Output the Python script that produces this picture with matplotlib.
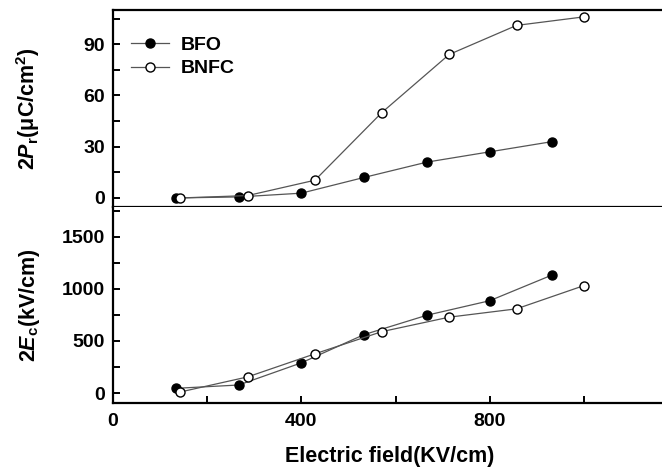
import matplotlib.pyplot as plt
from matplotlib.ticker import MultipleLocator

plt.rcParams['font.family'] = ['Liberation Sans', 'DejaVu Sans']
plt.rcParams['font.weight'] = 'bold'
plt.rcParams['mathtext.fontset'] = 'custom'
plt.rcParams['mathtext.rm'] = 'Liberation Sans:bold'
plt.rcParams['mathtext.it'] = 'Liberation Sans:bold:italic'
plt.rcParams['mathtext.bf'] = 'Liberation Sans:bold'

# Data
field_bfo = [133, 267, 400, 533, 667, 800, 933]
field_bnfc = [143, 286, 429, 571, 714, 857, 1000]
pr_bfo = [0.0, 0.6, 2.8, 12.0, 21.0, 27.0, 33.0]
pr_bnfc = [0.0, 1.4, 10.4, 50.0, 84.0, 101.0, 106.0]
ec_bfo = [45, 77, 290, 561, 748, 887, 1135]
ec_bnfc = [10, 155, 377, 590, 729, 809, 1032]

line_col = "#555555"
fig = plt.figure(figsize=(6.62, 4.69), dpi=100)
ax1 = fig.add_axes([0.1707, 0.5586, 0.835, 0.42])
ax2 = fig.add_axes([0.1707, 0.1407, 0.835, 0.418], sharex=ax1)

ax1.plot(field_bfo, pr_bfo, color=line_col, lw=0.9, marker="o", ms=6.5,
         mfc="black", mec="black", label="BFO")
ax1.plot(field_bnfc, pr_bnfc, color=line_col, lw=0.9, marker="o", ms=6.5,
         mfc="white", mec="black", mew=1.0, label="BNFC")
ax2.plot(field_bfo, ec_bfo, color=line_col, lw=0.9, marker="o", ms=6.5,
         mfc="black", mec="black")
ax2.plot(field_bnfc, ec_bnfc, color=line_col, lw=0.9, marker="o", ms=6.5,
         mfc="white", mec="black", mew=1.0)

ax1.set_xlim(0, 1174)
ax1.set_ylim(-5.3, 110)
ax2.set_ylim(-96, 1788)

ax1.yaxis.set_major_locator(MultipleLocator(30))
ax1.yaxis.set_minor_locator(MultipleLocator(15))
ax2.yaxis.set_major_locator(MultipleLocator(500))
ax2.yaxis.set_minor_locator(MultipleLocator(250))
ax2.xaxis.set_major_locator(MultipleLocator(400))
ax2.xaxis.set_minor_locator(MultipleLocator(200))

for ax in (ax1, ax2):
    for s in ax.spines.values():
        s.set_linewidth(1.6)
    ax.spines["right"].set_visible(False)
    ax.tick_params(which="both", direction="in", width=1.4, labelsize=14,
                   top=False, right=False)
    ax.tick_params(which="major", length=5)
    ax.tick_params(which="minor", length=5)
    ax.tick_params(axis="y", pad=6)

ax1.tick_params(axis="x", which="both", bottom=False, labelbottom=False)
ax2.spines["top"].set_visible(False)
ax2.tick_params(axis="x", which="both", pad=7)

ax1.set_ylabel(r"2$\mathit{P}_\mathrm{r}$(μC/cm$^\mathrm{2}$)", fontsize=15.5,
               fontweight="bold")
ax2.set_ylabel(r"2$\mathit{E}_\mathrm{c}$(kV/cm)", fontsize=15.5,
               fontweight="bold")
ax1.yaxis.set_label_coords(-0.128, 0.5)
ax2.yaxis.set_label_coords(-0.128, 0.5)
ax2.set_xlabel("Electric field(KV/cm)", fontsize=15.5, fontweight="bold",
               labelpad=12)

ax1.legend(loc="upper left", frameon=False, fontsize=14,
           bbox_to_anchor=(0.0, 0.955), handlelength=2.0, handletextpad=0.6,
           labelspacing=0.3, borderaxespad=0.5)

fig.savefig("out.png", dpi=100)
